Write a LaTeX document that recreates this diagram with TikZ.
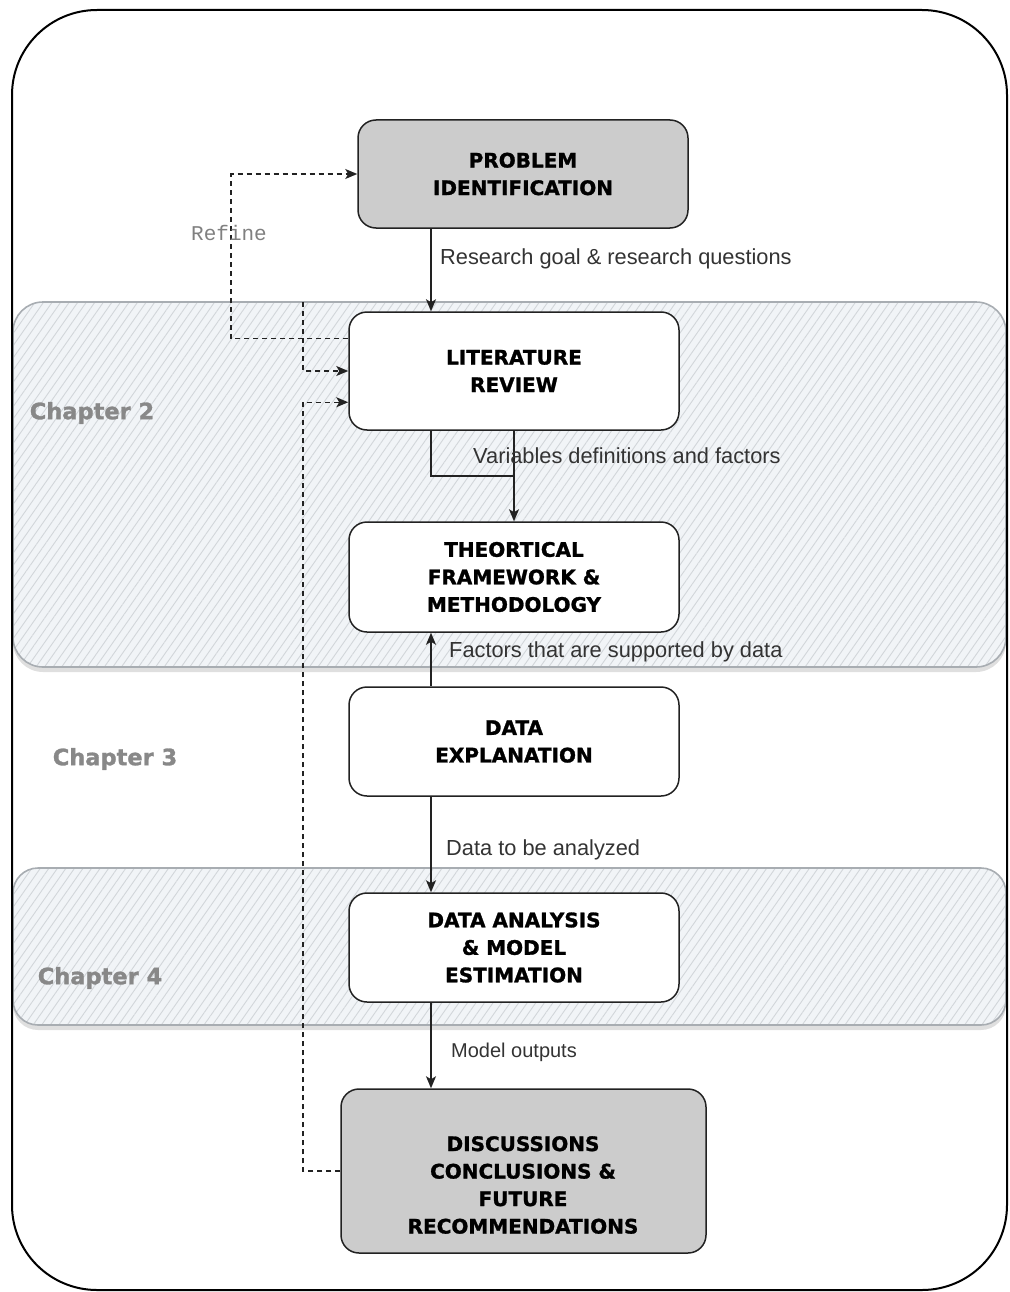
\documentclass[tikz,border=0pt]{standalone}
\usepackage{fontspec}
\setmainfont{Liberation Sans}
\newfontfamily\boxfont{DejaVu Sans}[BoldFeatures={FakeBold=1.3}]
\newfontfamily\refinefont{Liberation Mono}
\usetikzlibrary{arrows.meta,patterns.meta,shadows,calc}
\definecolor{boxgray}{HTML}{CCCCCC}
\definecolor{bandfill}{HTML}{F1F4F7}
\definecolor{hatch}{HTML}{D2D6DA}
\definecolor{bandedge}{HTML}{A8ADB2}
\definecolor{inkc}{HTML}{222222}
\definecolor{labc}{HTML}{333333}
\definecolor{chapc}{HTML}{888888}
\tikzset{
  stepbox/.style={draw=inkc, line width=1.5pt, rounded corners=18pt, fill=white,
    inner sep=0pt, align=center, font=\boxfont\bfseries\fontsize{20}{27.5}\selectfont},
  greybox/.style={stepbox, fill=boxgray},
  band/.style={draw=bandedge, line width=1.6pt,
    preaction={fill=bandfill, drop shadow={shadow xshift=0pt, shadow yshift=-5pt, opacity=0.25}},
    pattern={Lines[angle=55,distance=7pt,line width=0.9pt]}, pattern color=hatch},
  arr/.style={draw=inkc, line width=1.3pt, -{Stealth[length=12pt,width=10pt,inset=3pt]}},
  plainline/.style={draw=inkc, line width=1.3pt},
  dasharr/.style={draw=inkc, line width=1.3pt, dash pattern=on 5pt off 4pt,
    -{Stealth[length=12pt,width=10pt,inset=3pt]}},
  flowlab/.style={anchor=west, inner sep=0pt, text=labc, font=\fontsize{21.8}{24}\selectfont},
  chaplab/.style={inner sep=0pt, text=chapc, font=\boxfont\bfseries\fontsize{22.5}{24}\selectfont},
}
\begin{document}
\begin{tikzpicture}[x=1pt,y=-1pt]
\useasboundingbox (0,0) rectangle (1009,1292);

% chapter bands
\path[band, rounded corners=30pt] (13,302) rectangle (1006,667);
\path[band, rounded corners=25pt] (13,868) rectangle (1006,1025);

% outer frame
\draw[line width=2pt, black, rounded corners=85pt] (12,10) rectangle (1007,1290);

% chapter labels
\node[chaplab] (ch2) at (92,413) {Chapter 2};
\node[chaplab] (ch3) at (115,759) {Chapter 3};
\node[chaplab] (ch4) at (100,978) {Chapter 4};

% helper coordinates
\coordinate (xa) at (431,0);
\coordinate (xr) at (231,0);
\coordinate (xl) at (303,0);
\coordinate (ym) at (0,476);
\coordinate (dtop) at (303,302);

% boxes
\node[greybox, minimum width=330pt, minimum height=108pt] (PI) at (523,174)
  {PROBLEM\\IDENTIFICATION};
\node[stepbox, minimum width=330pt, minimum height=118pt] (LR) at (514,371)
  {LITERATURE\\REVIEW};
\node[stepbox, minimum width=330pt, minimum height=110pt] (TF) at (514,577)
  {THEORTICAL\\FRAMEWORK \&\\METHODOLOGY};
\node[stepbox, minimum width=330pt, minimum height=109pt] (DE) at (514,741.5)
  {DATA\\EXPLANATION};
\node[stepbox, minimum width=330pt, minimum height=109pt] (DA) at (514,947.5)
  {DATA ANALYSIS\\\& MODEL\\ESTIMATION};
\node[greybox, minimum width=365pt, minimum height=164pt] (DC) at (523.5,1171) {};
\node[inner sep=0pt, align=center, font=\boxfont\bfseries\fontsize{20}{27.5}\selectfont]
  (DCt) at (523,1185) {DISCUSSIONS\\CONCLUSIONS \&\\FUTURE\\RECOMMENDATIONS};

% solid connectors
\draw[arr] (PI.south -| xa) -- (LR.north -| xa);
\draw[arr] (LR.south -| xa) -- (xa |- ym) -- (LR.south |- ym) -- (TF.north);
\draw[plainline] (LR.south) -- (LR.south |- ym);
\draw[arr] (DE.north -| xa) -- (TF.south -| xa);
\draw[arr] (DE.south -| xa) -- (DA.north -| xa);
\draw[arr] (DA.south -| xa) -- (DC.north -| xa);

% dashed connectors
\coordinate (lrw1) at ($(LR.north west)+(0,27)$);
\coordinate (lrw3) at ($(LR.north west)+(0,91)$);
\draw[dasharr] (lrw1) -- (xr |- lrw1) -- (xr |- PI.west) -- (PI.west);
\draw[dasharr] (DC.west) -- (xl |- DC.west) -- (xl |- lrw3) -- (lrw3);
\draw[dasharr] (dtop) -- (xl |- LR.west) -- (LR.west);

% connector labels
\node[flowlab] (l1) at (440,259) {Research goal \& research questions};
\node[flowlab] (l2) at (473,456) {Variables definitions and factors};
\node[flowlab] (l3) at (449,652) {Factors that are supported by data};
\node[flowlab] (l4) at (446,850) {Data to be analyzed};
\node[flowlab, font=\fontsize{20}{24}\selectfont] (l5) at (451,1052) {Model outputs};
\node[anchor=west, inner sep=0pt, text=gray, font=\refinefont\fontsize{21}{24}\selectfont]
  (rf) at (191,233) {Refine};
\end{tikzpicture}
\end{document}
